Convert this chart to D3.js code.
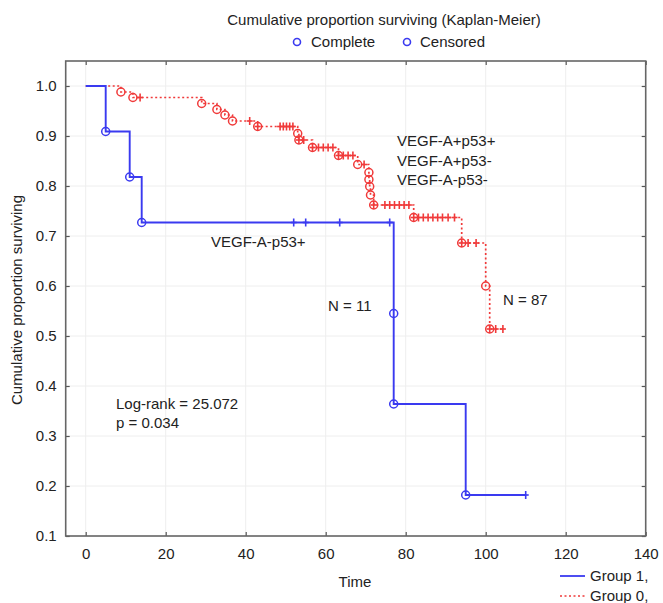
<!DOCTYPE html>
<html>
<meta charset="utf-8">
<title>Kaplan-Meier</title>
<style>
  body { margin: 0; background: #fff; }
  text { font-family: "Liberation Sans", Arial, sans-serif; fill: #222; }
</style>
<body>
<div id="chart"></div>
<script src="https://cdn.jsdelivr.net/npm/d3@7"></script>
<script>
// group 1 (N = 11): steps at events [time, survival after], censored marks [time, survival]
var blueSteps = [[0, 1.0], [5, 0.909], [11, 0.818], [14, 0.727], [77, 0.545], [77, 0.364], [95, 0.182]];
var blueEvents = [[5, 0.909], [11, 0.818], [14, 0.727], [77, 0.545], [77, 0.364], [95, 0.182]];
var blueCensored = [[52, 0.727], [55, 0.727], [63.5, 0.727], [76, 0.727], [110, 0.182]];

// group 0 (N = 87)
var redSteps = [[0, 1.0], [8.8, 0.988], [11.8, 0.977], [29, 0.965], [32.8, 0.953], [34.8, 0.942],
  [36.7, 0.930], [43, 0.919], [53, 0.905], [53.3, 0.892], [56.7, 0.877], [63.2, 0.861],
  [68, 0.843], [70.8, 0.827], [70.8, 0.813], [71, 0.799], [71.2, 0.782], [72, 0.762],
  [82, 0.737], [94, 0.686], [100, 0.600], [101, 0.514]];
var redEvents = redSteps.slice(1);
var redCensored = [[13.6, 0.977], [41, 0.930], [43, 0.919], [48.6, 0.919], [49.4, 0.919],
  [50.2, 0.919], [51, 0.919], [51.8, 0.919], [53.3, 0.892], [54.5, 0.892], [56.7, 0.877],
  [58.2, 0.877], [59.4, 0.877], [60.6, 0.877], [61.8, 0.877], [63.2, 0.861], [64.4, 0.861],
  [65.6, 0.861], [66.8, 0.861], [69.6, 0.843], [72, 0.762], [74.8, 0.762], [76, 0.762],
  [77.2, 0.762], [78.4, 0.762], [79.6, 0.762], [80.8, 0.762], [82, 0.737], [83.2, 0.737],
  [84.4, 0.737], [85.6, 0.737], [86.8, 0.737], [88, 0.737], [89.2, 0.737], [90.6, 0.737],
  [92.2, 0.737], [94, 0.686], [95.6, 0.686], [97.6, 0.686], [101, 0.514], [102.5, 0.514],
  [104.3, 0.514]];

var xTicks = [0, 20, 40, 60, 80, 100, 120, 140];
var yTicks = [0.1, 0.2, 0.3, 0.4, 0.5, 0.6, 0.7, 0.8, 0.9, 1.0];

var blue = "#3a3af0", red = "#f03a3a";

var svg = d3.select("#chart").append("svg").attr("width", 663).attr("height", 603);

var x = d3.scaleLinear().domain([-5, 140]).range([65.7, 645.7]);
var y = d3.scaleLinear().domain([0.1, 1.05]).range([536, 61]);

// grid
svg.append("g").selectAll("line").data(xTicks).enter().append("line")
  .attr("x1", d => x(d)).attr("x2", d => x(d)).attr("y1", y(1.05)).attr("y2", y(0.1))
  .attr("stroke", "#eeeeee");
svg.append("g").selectAll("line").data(yTicks).enter().append("line")
  .attr("x1", x(-5)).attr("x2", x(140)).attr("y1", d => y(d)).attr("y2", d => y(d))
  .attr("stroke", "#eeeeee");

// axes with inward ticks
var xa = svg.append("g").attr("transform", "translate(0," + y(0.1) + ")")
  .call(d3.axisBottom(x).tickValues(xTicks).tickSize(-4).tickPadding(12).tickSizeOuter(0));
var xt = svg.append("g").attr("transform", "translate(0," + y(1.05) + ")")
  .call(d3.axisTop(x).tickValues(xTicks).tickSize(-4).tickFormat("").tickSizeOuter(0));
var ya = svg.append("g").attr("transform", "translate(" + x(-5) + ",0)")
  .call(d3.axisLeft(y).tickValues(yTicks).tickSize(-4).tickPadding(9).tickFormat(d3.format(".1f")).tickSizeOuter(0));
var yr = svg.append("g").attr("transform", "translate(" + x(140) + ",0)")
  .call(d3.axisRight(y).tickValues(yTicks).tickSize(-4).tickFormat("").tickSizeOuter(0));
[xa, xt, ya, yr].forEach(function (g) {
  g.select(".domain").remove();
  g.selectAll(".tick line").attr("stroke", "#555").attr("stroke-width", 1.2);
  g.selectAll(".tick text").style("font-size", "15px").style("font-family", "Liberation Sans, Arial, sans-serif").attr("fill", "#333");
});

svg.append("rect")
  .attr("x", x(-5)).attr("y", y(1.05)).attr("width", x(140) - x(-5)).attr("height", y(0.1) - y(1.05))
  .attr("fill", "none").attr("stroke", "#666").attr("stroke-width", 1.6);

// curves
var line = d3.line().x(d => x(d[0])).y(d => y(d[1])).curve(d3.curveStepAfter);

function drawGroup(steps, events, censored, color, dash, width) {
  var last = censored[censored.length - 1];
  var pts = steps.concat([[last[0], steps[steps.length - 1][1]]]);
  svg.append("path").attr("d", line(pts)).attr("fill", "none")
    .attr("stroke", color).attr("stroke-width", width)
    .attr("stroke-dasharray", dash);
  svg.append("g").selectAll("circle").data(events).enter().append("circle")
    .attr("cx", d => x(d[0])).attr("cy", d => y(d[1])).attr("r", 4)
    .attr("fill", "none").attr("stroke", color).attr("stroke-width", 1.5);
  var c = svg.append("g").selectAll("g").data(censored).enter().append("g")
    .attr("transform", d => "translate(" + x(d[0]) + "," + y(d[1]) + ")");
  c.append("line").attr("x1", 0).attr("x2", 0).attr("y1", -4).attr("y2", 4)
    .attr("stroke", color).attr("stroke-width", 1.6);
  c.append("line").attr("x1", -3).attr("x2", 3).attr("y1", 0).attr("y2", 0)
    .attr("stroke", color).attr("stroke-width", 1.6);
}
drawGroup(redSteps, redEvents, redCensored, red, "2,2.5", 1.7);
drawGroup(blueSteps, blueEvents, blueCensored, blue, null, 1.9);

// labels
function label(tx, ty, s, size, anchor) {
  svg.append("text").attr("x", tx).attr("y", ty).text(s)
    .style("font-size", (size || 15) + "px").attr("text-anchor", anchor || "start");
}
label(384, 25, "Cumulative proportion surviving (Kaplan-Meier)", 15, "middle");
svg.append("circle").attr("cx", 297).attr("cy", 42).attr("r", 3.5).attr("fill", "none").attr("stroke", blue).attr("stroke-width", 1.6);
label(311, 47, "Complete");
svg.append("circle").attr("cx", 407).attr("cy", 42).attr("r", 3.5).attr("fill", "none").attr("stroke", blue).attr("stroke-width", 1.6);
label(420, 47, "Censored");

label(397, 146, "VEGF-A+p53+");
label(397, 166, "VEGF-A+p53-");
label(397, 185, "VEGF-A-p53-");
label(211, 247, "VEGF-A-p53+");
label(328, 311, "N = 11");
label(503, 305, "N = 87");
label(116, 409, "Log-rank = 25.072");
label(116, 428, "p = 0.034");

label(355, 587, "Time", 15, "middle");
svg.append("text").attr("transform", "translate(22,300) rotate(-90)")
  .attr("text-anchor", "middle").style("font-size", "15px").text("Cumulative proportion surviving");

// bottom legend
svg.append("line").attr("x1", 560).attr("x2", 585).attr("y1", 576).attr("y2", 576)
  .attr("stroke", blue).attr("stroke-width", 1.8);
label(590, 581, "Group 1,");
svg.append("line").attr("x1", 560).attr("x2", 585).attr("y1", 596).attr("y2", 596)
  .attr("stroke", red).attr("stroke-width", 1.7).attr("stroke-dasharray", "2,2.5");
label(590, 601, "Group 0,");
</script>
</body>
</html>
